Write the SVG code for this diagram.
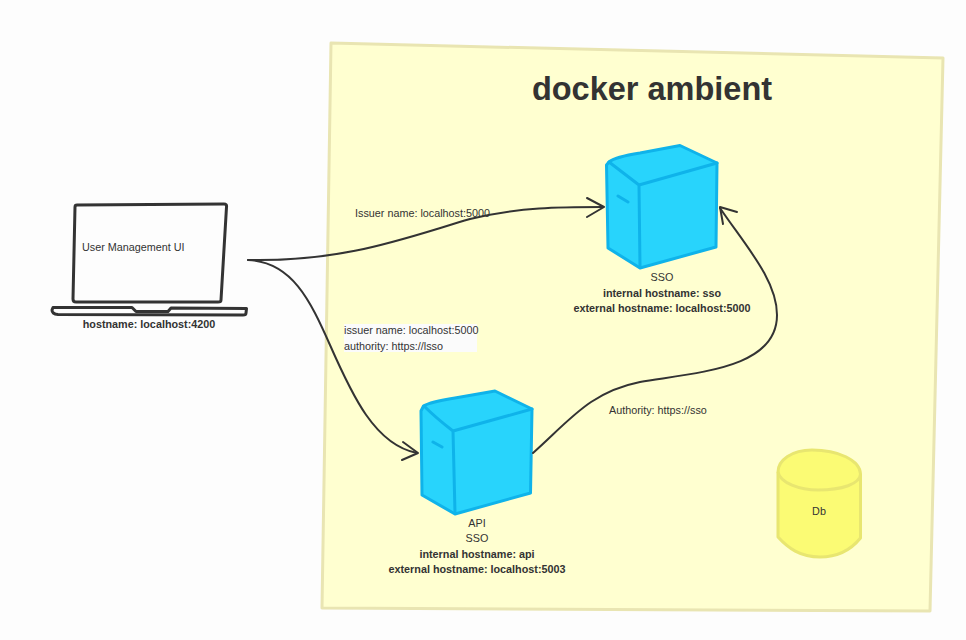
<svg xmlns="http://www.w3.org/2000/svg" width="966" height="640" viewBox="0 0 966 640">
<style>
text{font-family:"Liberation Sans",Arial,sans-serif;font-size:10.800px;fill:#333}
.b{font-weight:700;text-anchor:middle}
.c{text-anchor:middle}
.cube{fill:#28d4fc;stroke:#0fb3ea;stroke-width:3;stroke-linejoin:round;stroke-linecap:round}
.edge{fill:none;stroke:#0fb3ea;stroke-width:3;stroke-linecap:round;stroke-linejoin:round}
.con{fill:none;stroke:#333;stroke-width:2;stroke-linecap:round;stroke-linejoin:round}
.lap{fill:#fdfdfd;stroke:#333;stroke-width:3;stroke-linejoin:round}
</style>
<rect width="966" height="640" fill="#fdfdfd"/>
<g id="docker-ambient">
<path d="M331 43L943 58L930 611L322 608Z" fill="#ffffd0" stroke="#e9e5b2" stroke-width="3" stroke-linejoin="round"/>
<text x="652" y="100" class="b" style="font-size:32.500px">docker ambient</text>
</g>
<g id="laptop">
<path class="lap" d="M77 205L224 204Q227 204 226.500 207L221 300Q221 302 218 302L76 302Q73 302 73 299L75 207Q75 205 77 205Z"/>
<path class="lap" d="M53 307.500L132 307.500L136 311.500L168 311.500L171 308L246.500 308.500L246 313Q246 315 243 315L58 314.500Q52 314 52 310Z"/>
<text x="82" y="251">User Management UI</text>
<text x="149" y="328" class="b">hostname: localhost:4200</text>
</g>
<g id="sso">
<path class="cube" d="M606.500 165L609 162Q615 157 640 153L680 145.500L717 163L716 247L640 268L608 248Z"/>
<path class="edge" d="M609 162Q622 172 639 185L717 163M639 185L640 267M618 196L628 202"/>
<text x="662" y="281" class="c">SSO</text>
<text x="662" y="297" class="b">internal hostname: sso</text>
<text x="662" y="312" class="b">external hostname: localhost:5000</text>
</g>
<g id="api">
<path class="cube" d="M421 411L423.500 406Q430 402 455 398L495 391L532 409L530.500 493L455 514L422 495Z"/>
<path class="edge" d="M424 406Q436 418 453 431L532 409M453 431L455 513M433 442L442 447"/>
<text x="477" y="527" class="c">API</text>
<text x="477" y="542" class="c">SSO</text>
<text x="477" y="558" class="b">internal hostname: api</text>
<text x="477" y="573" class="b">external hostname: localhost:5003</text>
</g>
<g id="db">
<path d="M778 472C778 460 792 450 812 450C838 450 860 460 860.500 474L860.500 538C850 551 835 557 820 557C800 557 788 548 778 537Z" fill="#fbfb74" stroke="#e8e670" stroke-width="3" stroke-linejoin="round"/>
<path d="M778 472C780 483 800 490 818 490C842 490 860 484 860.500 474" fill="none" stroke="#e8e670" stroke-width="3"/>
<text x="819" y="515" class="c">Db</text>
</g>
<g id="connectors">
<path class="con" d="M248 260C345 262 405 238 470 219C520 207 560 207 603 207"/>
<path class="con" d="M587 198L604 207L587 217"/>
<path class="con" d="M248 260C292 262 310 300 330 345C352 395 375 445 417 453"/>
<path class="con" d="M402 460L418 453L403 442"/>
<path class="con" d="M533 453C570 420 590 392 640 382C700 372 777 368 777 315C777 280 745 245 720 208"/>
<path class="con" d="M737 212L720 207L723 224"/>
</g>
<g id="labels">
<rect x="344" y="324" width="133" height="28" fill="#fbfbfb"/>
<text x="355" y="217">Issuer name: localhost:5000</text>
<text x="344" y="334">issuer name: localhost:5000</text>
<text x="344" y="350">authority: https://lsso</text>
<text x="609" y="414">Authority: https://sso</text>
</g>
</svg>
